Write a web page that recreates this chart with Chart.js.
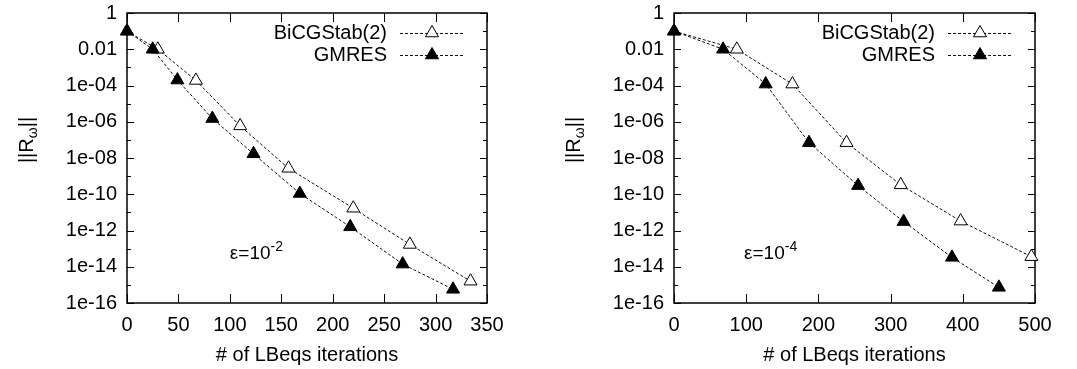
<!DOCTYPE html>
<html>
<head>
<meta charset="utf-8">
<script src="https://cdn.jsdelivr.net/npm/chart.js@4.4.1/dist/chart.umd.min.js"></script>
<style>
  html, body { margin: 0; padding: 0; background: #fff; }
  .painel { position: absolute; top: 0; height: 369px; }
  #painel-esq { left: 0; width: 540px; }
  #painel-dir { left: 547px; width: 530px; }
</style>
</head>
<body>
<div class="painel" id="painel-esq"><canvas id="grafico-esq"></canvas></div>
<div class="painel" id="painel-dir"><canvas id="grafico-dir"></canvas></div>
<script>
// dados (eps = 1e-2, esquerda)
var iterBiEsq = [0, 30, 67, 110, 157, 220, 275, 334];
var resBiEsq  = [0.1, 0.01, 1.9e-4, 5.9e-7, 2.7e-9, 1.7e-11, 1.7e-13, 1.6e-15];
var iterGmEsq = [0, 25, 49, 83, 123, 168, 217, 268, 317];
var resGmEsq  = [0.1, 0.01, 2e-4, 1.5e-6, 1.7e-8, 1.1e-10, 1.6e-12, 1.4e-14, 5.7e-16];

// eps = 1e-4, direita
var iterBiDir = [0, 87, 164, 239, 314, 397, 495];
var resBiDir  = [0.1, 0.01, 1.2e-4, 7e-8, 3.3e-10, 3.3e-12, 3.6e-14];
var iterGmDir = [0, 68, 127, 187, 255, 318, 385, 450];
var resGmDir  = [0.1, 0.01, 1.2e-4, 7e-8, 3e-10, 3.1e-12, 3.3e-14, 7.3e-16];

var ticksXEsq = [0, 50, 100, 150, 200, 250, 300, 350];
var ticksXDir = [0, 100, 200, 300, 400, 500];
var expoentesY = [0, -2, -4, -6, -8, -10, -12, -14, -16];

var nomeBi = 'BiCGStab(2)';
var nomeGm = 'GMRES';
var tituloX = '# of LBeqs iterations';

var FONTE = '"Liberation Sans", Arial, sans-serif';

function pontos(xs, ys) {
    return xs.map(function (v, i) { return { x: v, y: ys[i] }; });
}

function rotuloY(valor) {
    var e = Math.round(Math.log10(valor));
    if (e === 0) return '1';
    if (e === -2) return '0.01';
    var n = -e;
    return '1e-' + (n < 10 ? '0' + n : n);
}

// moldura, ticks internos, titulos, legenda e anotacao no estilo gnuplot
var molduraGnuplot = {
    id: 'molduraGnuplot',
    beforeDatasetsDraw: function (chart, args, opts) {
        var ctx = chart.ctx, a = chart.chartArea;
        var x = chart.scales.x, y = chart.scales.y;
        ctx.save();
        ctx.strokeStyle = '#000';
        ctx.lineWidth = 1;
        ctx.beginPath();
        opts.ticksX.forEach(function (v) {
            var px = Math.round(x.getPixelForValue(v)) + 0.5;
            ctx.moveTo(px, a.bottom); ctx.lineTo(px, a.bottom - 9);
            ctx.moveTo(px, a.top); ctx.lineTo(px, a.top + 9);
        });
        for (var e = -16; e <= 0; e++) {
            var py = Math.round(y.getPixelForValue(Math.pow(10, e))) + 0.5;
            var len = (e % 2 === 0) ? 7 : 4;
            ctx.moveTo(a.left, py); ctx.lineTo(a.left + len, py);
            ctx.moveTo(a.right, py); ctx.lineTo(a.right - len, py);
        }
        ctx.stroke();
        ctx.lineWidth = 1.5;
        ctx.strokeRect(a.left, a.top, a.right - a.left, a.bottom - a.top);
        ctx.restore();
    },
    afterDraw: function (chart, args, opts) {
        var ctx = chart.ctx, a = chart.chartArea;
        var x = chart.scales.x, y = chart.scales.y;
        ctx.save();
        ctx.fillStyle = '#000';

        // titulo eixo x
        ctx.font = '20px ' + FONTE;
        ctx.textAlign = 'center';
        ctx.textBaseline = 'middle';
        ctx.fillText(tituloX, (a.left + a.right) / 2, 355);

        // titulo eixo y: ||R_w||
        ctx.save();
        ctx.translate(a.left - 101, 140);
        ctx.rotate(-Math.PI / 2);
        ctx.textAlign = 'left';
        ctx.textBaseline = 'alphabetic';
        ctx.font = '20px ' + FONTE;
        var w1 = ctx.measureText('||R').width;
        var w3 = ctx.measureText('||').width;
        ctx.font = '14px ' + FONTE;
        var w2 = ctx.measureText('\u03c9').width;
        var x0 = -(w1 + w2 + w3) / 2;
        ctx.font = '20px ' + FONTE;
        ctx.fillText('||R', x0, 7);
        ctx.font = '14px ' + FONTE;
        ctx.fillText('\u03c9', x0 + w1, 11);
        ctx.font = '20px ' + FONTE;
        ctx.fillText('||', x0 + w1 + w2, 7);
        ctx.restore();

        // legenda
        chart.data.datasets.forEach(function (ds, i) {
            var ly = a.top + 20 + i * 22;
            ctx.font = '20px ' + FONTE;
            ctx.textAlign = 'right';
            ctx.textBaseline = 'middle';
            ctx.fillStyle = '#000';
            ctx.fillText(ds.label, a.right - 100, ly);
            ctx.save();
            ctx.strokeStyle = ds.borderColor;
            ctx.lineWidth = ds.borderWidth;
            ctx.setLineDash(ds.borderDash);
            ctx.beginPath();
            ctx.moveTo(a.right - 87, ly + 0.5);
            ctx.lineTo(a.right - 24, ly + 0.5);
            ctx.stroke();
            ctx.restore();
            ctx.save();
            ctx.fillStyle = ds.pointBackgroundColor;
            ctx.strokeStyle = ds.pointBorderColor;
            ctx.lineWidth = ds.pointBorderWidth;
            Chart.helpers.drawPoint(ctx, {
                pointStyle: 'triangle', rotation: 0,
                radius: ds.pointRadius, borderWidth: ds.pointBorderWidth
            }, a.right - 55, ly);
            ctx.restore();
        });

        // anotacao epsilon
        var ex = x.getPixelForValue(opts.eps.x);
        var ey = y.getPixelForValue(opts.eps.y);
        ctx.textAlign = 'left';
        ctx.textBaseline = 'alphabetic';
        ctx.font = '19px ' + FONTE;
        ctx.fillText('\u03b5=10', ex, ey);
        var we = ctx.measureText('\u03b5=10').width;
        ctx.font = '14px ' + FONTE;
        ctx.fillText(opts.eps.exp, ex + we, ey - 8);
        ctx.restore();
    }
};

function criarGrafico(id, dadosBi, dadosGm, ticksX, maxX, padDir, eps) {
    new Chart(document.getElementById(id).getContext('2d'), {
        type: 'line',
        data: {
            datasets: [{
                label: nomeBi,
                data: dadosBi,
                order: 1,
                borderColor: '#111',
                borderWidth: 1,
                borderDash: [3, 2],
                pointStyle: 'triangle',
                pointRadius: 7.5,
                pointBackgroundColor: '#fff',
                pointBorderColor: '#000',
                pointBorderWidth: 1,
                tension: 0,
                clip: false
            }, {
                label: nomeGm,
                data: dadosGm,
                order: 0,
                borderColor: '#111',
                borderWidth: 1,
                borderDash: [3, 2],
                pointStyle: 'triangle',
                pointRadius: 7.5,
                pointBackgroundColor: '#000',
                pointBorderColor: '#000',
                pointBorderWidth: 1,
                tension: 0,
                clip: false
            }]
        },
        options: {
            responsive: true,
            maintainAspectRatio: false,
            animation: false,
            events: [],
            layout: { padding: { top: 13, right: padDir, bottom: 0, left: 0 } },
            plugins: {
                legend: { display: false },
                tooltip: { enabled: false },
                molduraGnuplot: { ticksX: ticksX, eps: eps }
            },
            scales: {
                x: {
                    type: 'linear',
                    min: 0,
                    max: maxX,
                    grid: { display: false, drawTicks: false },
                    border: { display: false },
                    afterBuildTicks: function (s) {
                        s.ticks = ticksX.map(function (v) { return { value: v }; });
                    },
                    afterFit: function (s) {
                        s.height = 66;
                        s.paddingLeft = 0;
                        s.paddingRight = 0;
                    },
                    ticks: {
                        color: '#000',
                        padding: 10,
                        maxRotation: 0,
                        autoSkip: false,
                        font: { family: FONTE, size: 20 }
                    }
                },
                y: {
                    type: 'logarithmic',
                    min: 1e-16,
                    max: 1,
                    grid: { display: false, drawTicks: false },
                    border: { display: false },
                    afterBuildTicks: function (s) {
                        s.ticks = expoentesY.map(function (e) { return { value: Math.pow(10, e) }; });
                    },
                    afterFit: function (s) {
                        s.width = 127;
                        s.paddingTop = 0;
                        s.paddingBottom = 0;
                    },
                    ticks: {
                        color: '#000',
                        padding: 10,
                        autoSkip: false,
                        font: { family: FONTE, size: 20 },
                        callback: function (v) { return rotuloY(v); }
                    }
                }
            }
        },
        plugins: [molduraGnuplot]
    });
}

criarGrafico('grafico-esq', pontos(iterBiEsq, resBiEsq), pontos(iterGmEsq, resGmEsq),
    ticksXEsq, 350, 53, { x: 100, y: 2.7e-14, exp: '-2' });
criarGrafico('grafico-dir', pontos(iterBiDir, resBiDir), pontos(iterGmDir, resGmDir),
    ticksXDir, 500, 42, { x: 97, y: 2.7e-14, exp: '-4' });
</script>
</body>
</html>
